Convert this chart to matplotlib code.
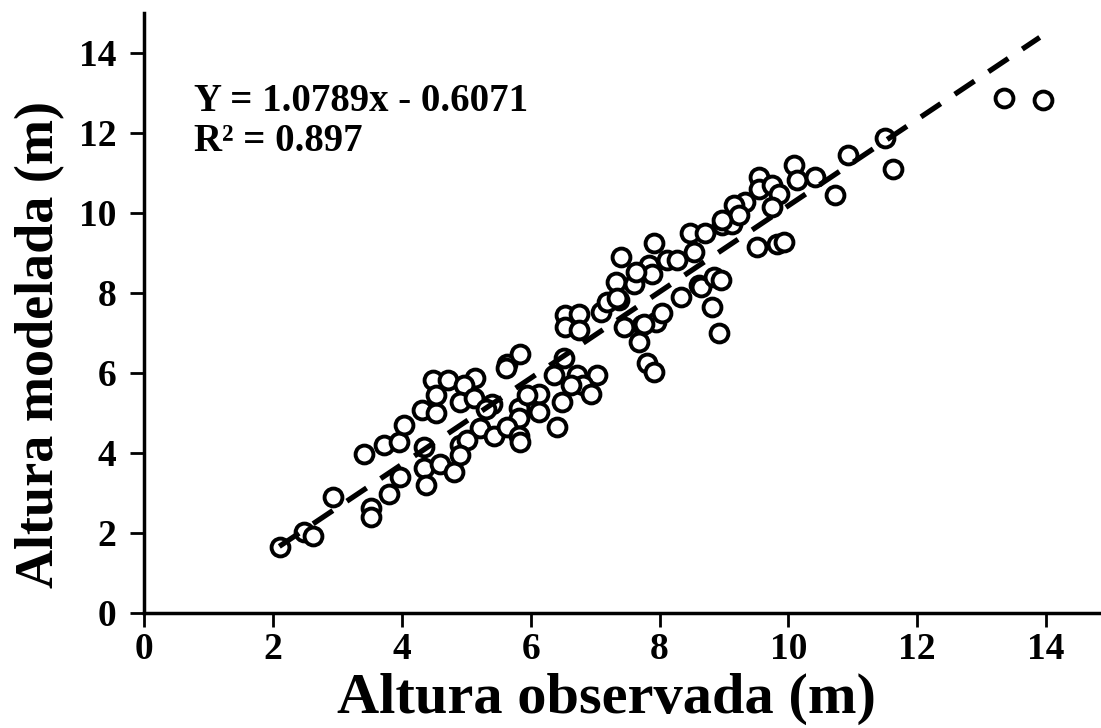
import matplotlib
matplotlib.use("Agg")
import matplotlib.pyplot as plt
import numpy as np

plt.rcParams['font.family'] = ['Liberation Serif', 'DejaVu Serif']
plt.rcParams['font.weight'] = 'bold'

obs = [2.11, 2.49, 2.62, 2.93, 3.52, 3.52, 3.42, 3.73, 3.80, 3.97,
       3.96, 4.03, 4.35, 4.35, 4.37, 4.32, 4.53, 4.49, 4.72, 5.13,
       4.53, 4.97, 4.91, 5.12, 5.40, 5.82, 5.82, 6.13, 6.13, 6.49,
       6.41, 5.22, 5.43, 5.63, 5.82, 5.84, 6.36, 6.52, 4.91, 5.02,
       4.60, 4.81, 4.91, 5.63, 5.83, 5.62, 5.95, 5.30, 6.54, 6.75,
       6.54, 6.75, 6.72, 7.03, 6.82, 6.93, 6.62, 7.37, 7.09, 7.19,
       7.45, 7.73, 7.94, 8.04, 7.68, 7.81, 7.91, 8.33, 8.81, 8.92,
       8.61, 7.40, 7.32, 7.60, 7.34, 7.91, 8.48, 8.71, 8.97, 9.13,
       8.53, 8.12, 7.83, 7.89, 7.63, 8.64, 8.84, 8.95, 7.76, 9.51,
       9.82, 9.93, 10.08, 10.13, 10.42, 10.93, 10.73, 11.63, 11.50, 9.54,
       9.54, 9.75, 9.85, 9.75, 9.33, 9.15, 9.23, 8.97, 8.27, 13.34,
       13.95]
mod = [1.65, 2.03, 1.92, 2.89, 2.61, 2.39, 3.97, 4.19, 2.98, 3.40,
       4.28, 4.69, 4.15, 3.61, 3.19, 5.07, 5.00, 5.83, 5.83, 5.86,
       5.44, 5.69, 5.27, 5.36, 5.22, 5.11, 4.88, 5.48, 5.02, 5.27,
       4.65, 4.61, 4.42, 4.64, 4.42, 4.28, 5.94, 6.36, 4.19, 4.32,
       3.73, 3.53, 3.94, 6.23, 6.48, 6.12, 5.45, 5.10, 7.44, 7.48,
       7.15, 7.07, 5.94, 5.94, 5.69, 5.48, 5.69, 7.82, 7.53, 7.78,
       7.15, 7.19, 7.28, 7.49, 6.78, 6.24, 6.03, 7.90, 7.65, 6.99,
       8.19, 8.90, 8.28, 8.23, 7.86, 9.24, 9.49, 9.49, 9.69, 9.73,
       9.03, 8.82, 8.69, 8.48, 8.53, 8.15, 8.40, 8.32, 7.23, 9.15,
       9.23, 9.28, 11.19, 10.82, 10.90, 11.44, 10.44, 11.11, 11.88, 10.90,
       10.61, 10.69, 10.48, 10.15, 10.28, 10.19, 9.94, 9.82, 8.82, 12.88,
       12.83]

slope = 1.0789
intercept = -0.6071
r2 = 0.897
fit_range = [2.1, 13.9]

fig = plt.figure(figsize=(11.01, 7.28), dpi=100)
ax = fig.add_axes([144 / 1101, (728 - 612.7) / 728, (1099 - 144) / 1101, (612.7 - 13) / 728])

ax.scatter(obs, mod, s=165, facecolors='white', edgecolors='black', linewidths=2.8, zorder=2)

xf = np.array(fit_range)
ax.plot(xf, slope * xf + intercept, color='black', lw=3.8, linestyle=(0, (4.5, 3.2)), zorder=3)

ax.text(0.78, 12.55, f"Y = {slope}x - {abs(intercept)}", fontsize=28, fontweight='bold')
ax.text(0.78, 11.55, f"R² = {r2}", fontsize=28, fontweight='bold')

ax.set_xlim(0, 14.82)
ax.set_ylim(0, 15)
ax.set_xticks(range(0, 15, 2))
ax.set_yticks(range(0, 15, 2))
ax.tick_params(direction='out', length=10, width=2, labelsize=27)
ax.tick_params(axis='x', pad=4)
ax.tick_params(axis='y', pad=10)
for lab in ax.get_xticklabels() + ax.get_yticklabels():
    lab.set_fontweight('bold')

for side in ['top', 'right']:
    ax.spines[side].set_visible(False)
for side in ['left', 'bottom']:
    ax.spines[side].set_linewidth(2.5)

ax.set_xlabel("Altura observada (m)", fontsize=42, fontweight='bold')
ax.set_ylabel("Altura modelada (m)", fontsize=39, fontweight='bold')
ax.xaxis.set_label_coords(0.484, -0.1)
ax.yaxis.set_label_coords(-0.082, 0.448)

fig.savefig("out.png", dpi=100, facecolor='white')
